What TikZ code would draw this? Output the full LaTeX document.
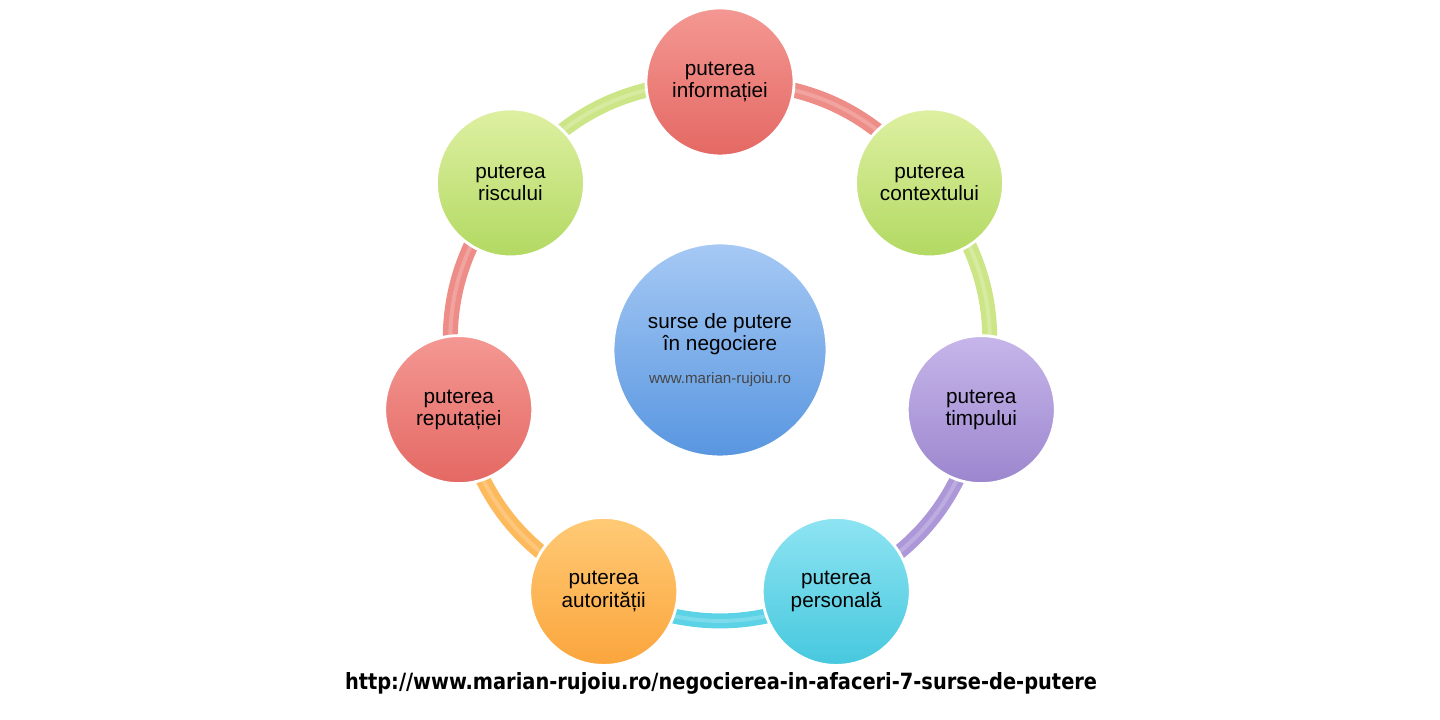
\documentclass[tikz,border=0pt]{standalone}
\usepackage{fontspec}
\setmainfont{Liberation Sans}
\newfontfamily\urlfont{DejaVu Sans Condensed}
\definecolor{redT}{RGB}{244,152,147}
\definecolor{redB}{RGB}{228,104,99}
\definecolor{redR}{RGB}{238,140,136}
\definecolor{greenT}{RGB}{222,240,162}
\definecolor{greenB}{RGB}{178,217,98}
\definecolor{greenR}{RGB}{204,230,135}
\definecolor{purpleT}{RGB}{198,182,234}
\definecolor{purpleB}{RGB}{156,134,206}
\definecolor{purpleR}{RGB}{172,152,216}
\definecolor{cyanT}{RGB}{142,228,242}
\definecolor{cyanB}{RGB}{70,200,222}
\definecolor{cyanR}{RGB}{92,210,230}
\definecolor{orangeT}{RGB}{255,202,118}
\definecolor{orangeB}{RGB}{251,165,60}
\definecolor{orangeR}{RGB}{252,186,92}
\definecolor{blueT}{RGB}{166,201,244}
\definecolor{blueB}{RGB}{88,150,224}
\definecolor{urlgray}{RGB}{70,70,70}
\usetikzlibrary{calc,backgrounds}
\tikzset{
  bubble/.style={circle,minimum size=1.48cm,inner sep=0pt,align=center,
    top color=#1T,bottom color=#1B,draw=white,line width=0.8pt,
    font=\fontsize{5.9}{6.3}\selectfont},
  ring/.style={line width=0.15cm,#1R},
  gloss/.style={line width=0.04cm,white,opacity=0.2}
}
\begin{document}
\begin{tikzpicture}
  \useasboundingbox (0,0) rectangle (14.4,7.2);
  \coordinate (ctr) at (7.2,3.7);
  \node[bubble=blue,minimum size=2.14cm,font=\fontsize{5.9}{6.2}\selectfont] (sursa) at (ctr)
    {surse de putere\\în negociere\\[3.2pt]{\fontsize{4.3}{5}\selectfont\color{urlgray}www.marian-rujoiu.ro}};
  \foreach \a/\n/\c/\t in {90/info/red/{puterea\\informației},
      38.57/context/green/{puterea\\contextului},
      -12.86/timp/purple/{puterea\\timpului},
      -64.29/pers/cyan/{puterea\\personală},
      -115.71/autor/orange/{puterea\\autorității},
      -167.14/reput/red/{puterea\\reputației},
      141.43/risc/green/{puterea\\riscului}}
    \node[bubble=\c] (\n) at ($(ctr)+(\a:2.68)$) {\t};
  \begin{scope}[on background layer]
    \foreach \u/\v/\c in {info/context/red,context/timp/green,timp/pers/purple,
        pers/autor/cyan,autor/reput/orange,reput/risc/red,risc/info/green} {
      \draw[ring=\c] (\u.center) to[bend left=25.7] (\v.center);
      \draw[gloss] (\u.center) to[bend left=25.7] (\v.center);
    }
  \end{scope}
  \node[anchor=base,inner sep=0pt] (link) at (7.21,0.30)
    {\resizebox{7.52cm}{0.17cm}{\urlfont\bfseries http://www.marian-rujoiu.ro/negocierea-in-afaceri-7-surse-de-putere}};
\end{tikzpicture}
\end{document}
